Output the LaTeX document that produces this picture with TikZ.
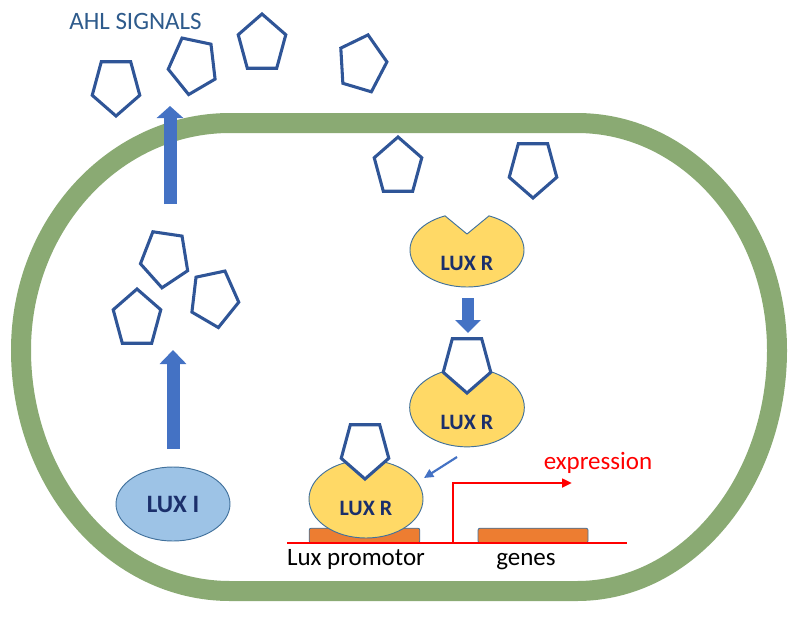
\documentclass[tikz,border=0pt]{standalone}
\usepackage{fontspec}
\setmainfont{Carlito}
\usetikzlibrary{arrows.meta,shapes.geometric}
\definecolor{membr}{HTML}{8AAA73}
\definecolor{pentblue}{HTML}{2F5597}
\definecolor{arrblue}{HTML}{4472C4}
\definecolor{luxyel}{HTML}{FFD966}
\definecolor{luxiblue}{HTML}{9DC3E6}
\definecolor{edgeblue}{HTML}{41719C}
\definecolor{navy}{HTML}{1B2F6B}
\definecolor{ahlblue}{HTML}{2E5B8C}
\definecolor{genorange}{HTML}{ED7D31}
\definecolor{dnared}{HTML}{FF0000}
\tikzset{
  pentline/.style={draw=pentblue, line width=2.3pt, line join=miter},
  blockarr/.style n args={3}{draw=arrblue, line width=#1, -{Triangle[width=#2,length=#3]}},
  luxr/.style={ellipse, draw=edgeblue, line width=0.7pt, fill=luxyel, inner sep=0pt},
  luxlabel/.style={text=navy, font=\bfseries\fontsize{16.5pt}{18pt}\selectfont, inner sep=0pt},
  genebox/.style={fill=genorange, draw=edgeblue, line width=0.6pt, rounded corners=1.5pt},
  redline/.style={draw=dnared, line width=1.9pt},
  plaintext/.style={font=\fontsize{18.75pt}{21pt}\selectfont, inner sep=0pt, anchor=base}
}
\newcommand\ahlpent[4][]{%
  \begin{scope}[shift={(#2,#3)}]
    \draw[pentline,#1] (#4:25 and 30) -- (#4+72:25 and 30) -- (#4+144:25 and 30)
      -- (#4+216:25 and 30) -- (#4+288:25 and 30) -- cycle;
  \end{scope}}
\begin{document}
\begin{tikzpicture}[x=0.75pt,y=-0.75pt]
\useasboundingbox (0,0) rectangle (799,618);
% membrane
\draw[membr, line width=15pt]
  (230,123) -- (577,123)
  arc[start angle=-90, end angle=0, x radius=200, y radius=227]
  arc[start angle=0, end angle=90, x radius=200, y radius=241]
  -- (230,591)
  arc[start angle=90, end angle=180, x radius=209, y radius=241]
  arc[start angle=180, end angle=270, x radius=209, y radius=227]
  -- cycle;
% title
\node[plaintext, text=ahlblue] (ahl) at (135.5,29) {AHL SIGNALS};
% free AHL outside
\ahlpent{116}{86}{90}
\ahlpent{193}{65}{100}
\ahlpent{262}{44}{-90}
\ahlpent{362}{64}{-4}
% AHL inside near membrane
\ahlpent{398}{167}{-90}
\ahlpent{533}{168}{90}
% AHL produced inside (left)
\ahlpent{165}{258}{25}
\ahlpent{137}{319}{-90}
\ahlpent{214}{298}{8}
% block arrows left
\coordinate (a1s) at (170,204); \coordinate (a1e) at (170,106);
\draw[blockarr={9.75pt}{19.5pt}{9pt}] (a1s) -- (a1e);
\coordinate (a2s) at (173,449); \coordinate (a2e) at (173,350);
\draw[blockarr={9.75pt}{19.5pt}{10.5pt}] (a2s) -- (a2e);
% LUX I
\node[ellipse, draw=edgeblue, line width=0.7pt, fill=luxiblue, inner sep=0pt,
      minimum width=85.5pt, minimum height=55.5pt] (luxi) at (173,504) {};
\node[luxlabel, font=\bfseries\fontsize{18.75pt}{20pt}\selectfont] (luxit) at (173,504) {LUX I};
% LUX R (free, with notch)
\draw[draw=edgeblue, line width=0.7pt, fill=luxyel]
  (467,250) ++(-67.3:57 and 37) arc[start angle=-67.3, end angle=247.3, x radius=57, y radius=37]
  -- (467,234) -- cycle;
\node[luxlabel] (lr1t) at (467,263) {LUX R};
% arrow down
\coordinate (a3s) at (468,298); \coordinate (a3e) at (468,333);
\draw[blockarr={9pt}{18.75pt}{9.75pt}] (a3s) -- (a3e);
% LUX R bound
\node[luxr, minimum width=86pt, minimum height=59pt] (lr2) at (467,407.5) {};
\ahlpent[fill=white]{467}{363}{90}
\node[luxlabel] (lr2t) at (467,422) {LUX R};
% thin arrow
\coordinate (a4s) at (457,457); \coordinate (a4e) at (424,478);
\draw[draw=arrblue, line width=1.6pt, -{Triangle[length=7pt,width=6.5pt]}] (a4s) -- (a4e);
% gene boxes
\node[genebox, minimum width=83pt, minimum height=11pt, inner sep=0pt] (prom) at (364.5,535.5) {};
\node[genebox, minimum width=82.5pt, minimum height=11pt, inner sep=0pt] (genes) at (533,535.5) {};
% LUX R on promoter
\node[luxr, minimum width=85.5pt, minimum height=58.5pt] (lr3) at (366,499) {};
\ahlpent[fill=white]{365}{449}{90}
\node[luxlabel] (lr3t) at (366,508) {LUX R};
% DNA line
\coordinate (d1) at (287,543); \coordinate (d2) at (627,543);
\draw[redline] (d1) -- (d2);
\coordinate (rb) at (453,543); \coordinate (re) at (572,483);
\draw[redline, -{Triangle[length=7.5pt,width=6.5pt]}] (rb) |- (re);
% labels
\node[plaintext, text=dnared] (expr) at (598,469) {expression};
\node[plaintext] (promt) at (356,565) {Lux promotor};
\node[plaintext] (genest) at (526,565) {genes};
\end{tikzpicture}
\end{document}
